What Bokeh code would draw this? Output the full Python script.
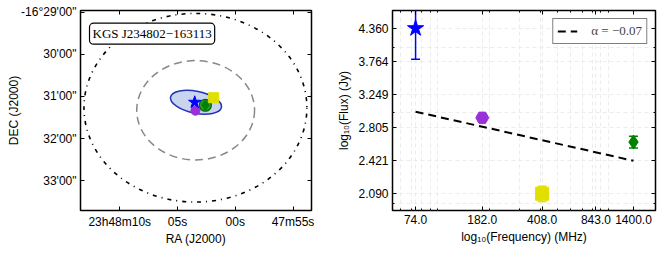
from bokeh.plotting import figure
from bokeh.layouts import row
from bokeh.models import (Range1d, FixedTicker, LinearAxis, LogAxis, Label,
                          NumeralTickFormatter, CustomJSTickFormatter, Legend, LegendItem)
from bokeh.embed import file_html
from bokeh.resources import INLINE

# ---------------- data ----------------
# left panel: sky positions (RA seconds after 23h48m00s, Dec arcmin below -16 deg as negative)
ra_ticks = [10, 5, 0, -5]
ra_labels = ["23h48m10s", "05s", "00s", "47m55s"]
dec_ticks = [-29, -30, -31, -32, -33]
dec_labels = ["-16°29'00\"", "30'00\"", "31'00\"", "32'00\"", "33'00\""]

beam_ra = [3.45, 3.43]
beam_dec = [-31.27, -31.33]
beam_w = [19.3, 10.2]
beam_h = [4.48, 2.36]

src_ra, src_dec, src_w, src_h, src_angle = 3.40, -31.14, 4.5, 0.52, -0.2

pos_ra = [3.45, 2.59, 1.87, 3.51]
pos_dec = [-31.34, -31.21, -31.03, -31.14]
source_name = "KGS J234802\u2212163113"

# right panel: spectrum
freq = [74.0, 182.0, 408.0, 1400.0]
flux = [4.36, 2.93, 2.09, 2.63]
flux_err = [0.56, 0.04, 0.07, 0.07]
markers = ["star", "hex", "square", "diamond"]
colors = ["#0000ff", "#9b30d9", "#e0e000", "#008000"]
sizes = [17, 13, 13, 14]
fit_freq = [74.0, 1400.0]
fit_flux = [3.01, 2.42]
fit_label = "\u03b1 = \u22120.07"
x_ticks = [74.0, 182.0, 408.0, 843.0, 1400.0]
x_minor = [60, 70, 80, 90, 100, 200, 300, 400, 500, 600, 700, 800, 900, 1000]
y_ticks = [2.090, 2.421, 2.805, 3.249, 3.764, 4.360]
y_minor = [2.0, 3.0, 4.0]

FONT = "Liberation Sans"
SERIF = "Liberation Serif"


def style_axis(ax, labels=True):
    ax.major_tick_in = 4
    ax.major_tick_out = 0
    ax.minor_tick_in = 2
    ax.minor_tick_out = 0
    ax.axis_line_color = None
    ax.major_tick_line_color = "black"
    ax.minor_tick_line_color = "black"
    ax.major_label_text_font = FONT
    ax.major_label_text_font_size = "12px"
    ax.major_label_text_color = "black"
    ax.axis_label_text_font = FONT
    ax.axis_label_text_font_size = "12px"
    ax.axis_label_text_font_style = "normal"
    ax.axis_label_text_color = "black"
    ax.major_label_standoff = 4
    if not labels:
        ax.formatter = CustomJSTickFormatter(code="return ''")
        ax.major_label_standoff = 0


# ---------------- left panel ----------------
p1 = figure(frame_width=231, frame_height=200,
            x_range=Range1d(13.4, -6.6), y_range=Range1d(-33.71, -28.96),
            output_backend="svg", toolbar_location=None,
            min_border_left=80, min_border_right=19, min_border_top=10, min_border_bottom=37)
p1.grid.visible = False
p1.outline_line_color = "black"
p1.outline_line_width = 1.5

rt = FixedTicker(ticks=ra_ticks, minor_ticks=[])
dt = FixedTicker(ticks=dec_ticks, minor_ticks=[])
p1.xaxis.ticker = rt
p1.yaxis.ticker = dt
p1.xaxis.major_label_overrides = dict(zip(ra_ticks, ra_labels))
p1.yaxis.major_label_overrides = dict(zip(dec_ticks, dec_labels))
p1.xaxis.axis_label = "RA (J2000)"
p1.yaxis.axis_label = "DEC (J2000)"
style_axis(p1.xaxis[0])
style_axis(p1.yaxis[0])
p1.yaxis.axis_label_standoff = -3
p1.xaxis.axis_label_standoff = 0
ax_top = LinearAxis(ticker=rt)
style_axis(ax_top, labels=False)
p1.add_layout(ax_top, "above")
ax_right = LinearAxis(ticker=dt)
style_axis(ax_right, labels=False)
p1.add_layout(ax_right, "right")

p1.ellipse(x=beam_ra[0], y=beam_dec[0], width=beam_w[0], height=beam_h[0],
           fill_color=None, line_color="black", line_width=1.6, line_dash="1 5 4 5")
p1.ellipse(x=beam_ra[1], y=beam_dec[1], width=beam_w[1], height=beam_h[1],
           fill_color=None, line_color="#888888", line_width=1.5, line_dash="8 5")
p1.ellipse(x=src_ra, y=src_dec, width=src_w, height=src_h, angle=src_angle,
           fill_color="#c9d5ee", line_color="#2233bb", line_width=1.5)

p1.scatter(x=pos_ra[0], y=pos_dec[0], marker="circle", size=9, fill_color=colors[1],
           line_color=colors[1])
p1.scatter(x=pos_ra[1], y=pos_dec[1], marker="circle", size=12, fill_color="#2e9a2e",
           line_color="#006400", line_width=1.2)
p1.scatter(x=pos_ra[1], y=pos_dec[1], marker="diamond", size=11, fill_color=colors[3],
           line_color=colors[3])
p1.scatter(x=pos_ra[2], y=pos_dec[2], marker="square", size=10, fill_color=colors[2],
           line_color=colors[2])
p1.scatter(x=pos_ra[3], y=pos_dec[3], marker="star", size=13, fill_color=colors[0],
           line_color=colors[0])

lab = Label(x=12.62, y=-29.26, text=source_name, text_align="left", text_baseline="top",
            text_font=SERIF, text_font_size="13px", text_color="black",
            border_line_color="black", border_line_width=1.2, background_fill_color="white",
            padding=3, border_radius=4)
p1.add_layout(lab)

# ---------------- right panel ----------------
p2 = figure(frame_width=263, frame_height=200, x_axis_type="log", y_axis_type="log",
            x_range=Range1d(54.2, 1884), y_range=Range1d(1.94, 4.72),
            output_backend="svg", toolbar_location=None,
            min_border_left=62, min_border_right=9, min_border_top=10, min_border_bottom=37)
p2.outline_line_color = "black"
p2.outline_line_width = 1.5

xt = FixedTicker(ticks=x_ticks, minor_ticks=x_minor)
yt = FixedTicker(ticks=y_ticks, minor_ticks=y_minor)
p2.xaxis.ticker = xt
p2.yaxis.ticker = yt
p2.xaxis.formatter = NumeralTickFormatter(format="0.0")
p2.yaxis.formatter = NumeralTickFormatter(format="0.000")
p2.xaxis.axis_label = "log\u2081\u2080(Frequency) (MHz)"
p2.yaxis.axis_label = "log\u2081\u2080(Flux) (Jy)"
style_axis(p2.xaxis[0])
style_axis(p2.yaxis[0])
p2.xaxis.axis_label_standoff = 3
p2.yaxis.axis_label_standoff = 4
ax2_top = LogAxis(ticker=xt)
style_axis(ax2_top, labels=False)
p2.add_layout(ax2_top, "above")
ax2_right = LogAxis(ticker=yt)
style_axis(ax2_right, labels=False)
p2.add_layout(ax2_right, "right")

for g in (p2.xgrid[0], p2.ygrid[0]):
    g.grid_line_color = "#ececec"
    g.grid_line_dash = "4 3"
    g.minor_grid_line_color = "#ececec"
    g.minor_grid_line_dash = "4 3"

fit = p2.line(x=fit_freq, y=fit_flux, line_color="black", line_width=2, line_dash="8 5")

for i in range(len(freq)):
    lo = flux[i] - flux_err[i]
    hi = flux[i] + flux_err[i]
    p2.segment(x0=freq[i], y0=lo, x1=freq[i], y1=hi, line_color=colors[i], line_width=1.5)
    p2.scatter(x=[freq[i], freq[i]], y=[lo, hi], marker="dash", size=9,
               line_color=colors[i], line_width=1.5)
    p2.scatter(x=freq[i], y=flux[i], marker=markers[i], size=sizes[i],
               fill_color=colors[i], line_color=colors[i])

leg = Legend(items=[LegendItem(label=fit_label, renderers=[fit])], location="top_right")
leg.label_text_font = SERIF
leg.label_text_font_size = "13px"
leg.label_text_font_style = "normal"
leg.border_line_color = "black"
leg.border_line_width = 1.2
leg.padding = 4
leg.spacing = 0
leg.margin = 8
leg.glyph_width = 20
leg.glyph_height = 12
leg.label_height = 12
leg.label_standoff = 14
p2.add_layout(leg)

layout = row(p1, p2)
open("out.html", "w").write(file_html(layout, INLINE))
